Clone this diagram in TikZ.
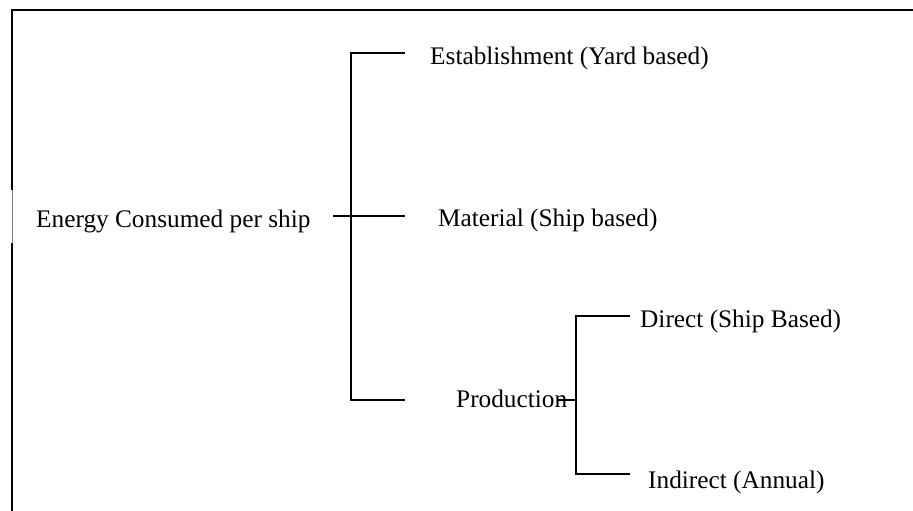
\documentclass[tikz,border=0pt]{standalone}
\usepackage{fontspec}
\setmainfont{Liberation Serif}
\usepackage{tikz}

\begin{document}
\begin{tikzpicture}[x=1pt, y=-1pt,
    lbl/.style={anchor=base west, inner sep=0pt, font=\fontsize{25.3}{30}\selectfont},
    link/.style={line width=1.5pt},
    frame/.style={line width=2pt}
]
    \useasboundingbox (0,0) rectangle (913,511);

    \draw[frame] (12,511) -- (12,243);
    \draw[gray, line width=0.6pt] (12,243) -- (12,190);
    \draw[frame] (12,190) -- (12,10) -- (913,10);

    \node[lbl] (energy) at (36,227) {Energy Consumed per ship};
    \node[lbl] (est) at (430,65) {Establishment (Yard based)};
    \node[lbl] (mat) at (438,226) {Material (Ship based)};
    \node[lbl] (prod) at (456,407) {Production};
    \node[lbl] (direct) at (640,327) {Direct (Ship Based)};
    \node[lbl] (indirect) at (648,488) {Indirect (Annual)};

    \coordinate (e0) at (351,53);
    \coordinate (e1) at (405,53);
    \coordinate (m0) at (333,216);
    \coordinate (m1) at (405,216);
    \coordinate (p0) at (351,400);
    \coordinate (p1) at (405,400);
    \coordinate (s0) at (557,400);
    \coordinate (s1) at (576,400);
    \coordinate (d0) at (576,316);
    \coordinate (d1) at (630,316);
    \coordinate (i0) at (576,474);
    \coordinate (i1) at (630,474);

    \draw[link] (e1) -- (e0) -- (p0) -- (p1);
    \draw[link] (m0) -- (m1);
    \draw[link] (s0) -- (s1);
    \draw[link] (d1) -- (d0) -- (i0) -- (i1);
\end{tikzpicture}
\end{document}
